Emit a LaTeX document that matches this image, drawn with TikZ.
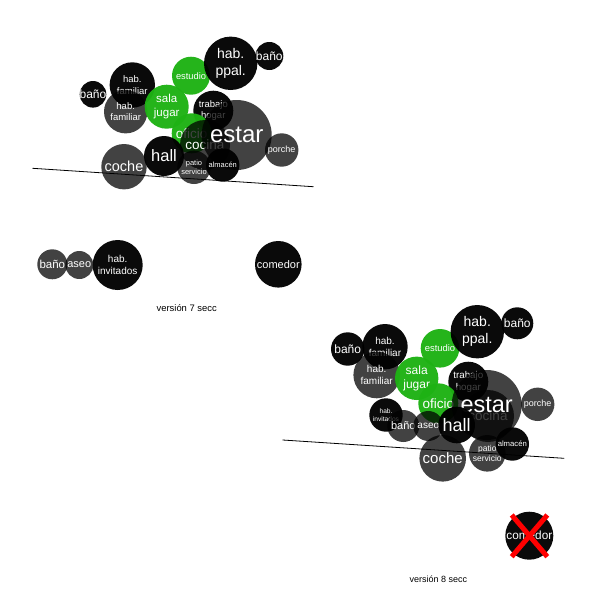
\documentclass[tikz,border=0pt]{standalone}
\usepackage{fontspec}
\setmainfont{Liberation Sans}
\newcommand\tamletra[1]{\fontsize{#1}{\fpeval{1.2*#1}}\selectfont}
\definecolor{verdesala}{RGB}{30,178,20}

\begin{document}
\begin{tikzpicture}[
    x=1pt,
    y=-1pt,
    line join=round,
    line cap=round,
    cuarto/.style={circle, inner sep=-4pt, text=white, align=center, text opacity=1},
    negro/.style={cuarto, fill=black, fill opacity=0.96},
    gris/.style={cuarto, fill=black, fill opacity=0.74},
    verde/.style={cuarto, fill=verdesala, fill opacity=0.97},
    rad/.style={minimum size=#1*2pt},
    fs/.style={font=\tamletra{#1}},
    suelo/.style={line width=0.8pt},
    cruz/.style={red, line width=5pt, line cap=butt}
]
    \useasboundingbox (0,0) rectangle (600,600);

    % versión 7
    \node[negro, rad=13.3, fs=12] (banoA) at (93,94.3) {baño};
    \node[negro, rad=22.7, fs=9.5] (habfamA) at (132.3,85) {hab.\\familiar};
    \node[gris, rad=21.7, fs=9.5] (habfamB) at (125.7,111.7) {hab.\\familiar};
    \node[verde, rad=19, fs=9.3] (estudioA) at (191,75.7) {estudio};
    \node[negro, rad=26.7, fs=14] (habppalA) at (230.7,63.3) {hab.\\ppal.};
    \node[negro, rad=14, fs=12] (banoB) at (269.3,56) {baño};
    \node[verde, rad=22, fs=11.5] (salaA) at (166.7,106.7) {sala\\jugar};
    \node[negro, rad=20, fs=9.5] (trabajoA) at (213.3,110.7) {trabajo\\hogar};
    \node[verde, rad=20, fs=13.5] (oficioA) at (191.7,133.3) {oficio};
    \node[gris, rad=25, fs=13.5] (cocinaA) at (205,145) {cocina};
    \node[gris, rad=35, fs=24] (estarA) at (236.7,135) {estar};
    \node[gris, rad=16.7, fs=9] (porcheA) at (281.7,150) {porche};
    \node[gris, rad=22.7, fs=14.5] (cocheA) at (124,166.7) {coche};
    \node[gris, rad=16.7, fs=7.5] (patioA) at (194,167.3) {patio\\servicio};
    \node[negro, rad=20, fs=16.5] (hallA) at (164,156) {hall};
    \node[negro, rad=16.7, fs=7.5] (almacenA) at (222.7,165) {almacén};
    \coordinate (sueloA1) at (32.7,168.3);
    \coordinate (sueloA2) at (313.3,186.7);
    \draw[suelo] (sueloA1) -- (sueloA2);

    % fuera de la línea
    \node[gris, rad=15, fs=11.5] (banoC) at (52.3,264.3) {baño};
    \node[gris, rad=14, fs=11] (aseoC) at (79.3,265) {aseo};
    \node[negro, rad=25, fs=10] (invitadosC) at (117.7,265) {hab.\\invitados};
    \node[negro, rad=23.3, fs=11] (comedorC) at (278.3,264.3) {comedor};
    \node[fs=9.4] (version7) at (186.7,308.3) {versión 7 secc};

    % versión 8
    \node[negro, rad=16.7, fs=12] (banoD) at (347.7,349) {baño};
    \node[negro, rad=22.7, fs=10] (habfamD) at (385,346.7) {hab.\\familiar};
    \node[gris, rad=23.3, fs=10] (habfamE) at (376.7,375) {hab.\\familiar};
    \node[verde, rad=19.3, fs=9.4] (estudioD) at (440,348.3) {estudio};
    \node[negro, rad=26.7, fs=14] (habppalD) at (477.3,331.7) {hab.\\ppal.};
    \node[negro, rad=16, fs=12] (banoE) at (517.3,323.3) {baño};
    \node[verde, rad=21.7, fs=12] (salaD) at (416.7,378.3) {sala\\jugar};
    \node[negro, rad=20, fs=9.8] (trabajoD) at (468.3,381.7) {trabajo\\hogar};
    \node[verde, rad=20, fs=13.5] (oficioD) at (438.3,403.3) {oficio};
    \node[gris, rad=26, fs=13.5] (cocinaD) at (488,416) {cocina};
    \node[gris, rad=35, fs=23.5] (estarD) at (486.7,405) {estar};
    \node[gris, rad=16.7, fs=9] (porcheD) at (537.7,404.3) {porche};
    \node[negro, rad=16.7, fs=6.6] (invitadosD) at (386,415) {hab.\\invitados};
    \node[gris, rad=16, fs=11] (banoF) at (403.3,426) {baño};
    \node[gris, rad=15, fs=10] (aseoD) at (428.3,426) {aseo};
    \node[negro, rad=18.3, fs=18] (hallD) at (456.7,425) {hall};
    \node[gris, rad=23.3, fs=15] (cocheD) at (442.7,458.3) {coche};
    \node[gris, rad=18.3, fs=8.5] (patioD) at (487.3,453.3) {patio\\servicio};
    \node[negro, rad=16.7, fs=7.7] (almacenD) at (512.3,444) {almacén};
    \coordinate (sueloD1) at (282.7,440);
    \coordinate (sueloD2) at (564,458.3);
    \draw[suelo] (sueloD1) -- (sueloD2);

    % comedor eliminado
    \node[negro, rad=24, fs=11.8] (comedorD) at (529.3,535.7) {comedor};
    \coordinate (cruz1) at (511.7,515);
    \coordinate (cruz2) at (547.3,556.7);
    \coordinate (cruz3) at (547.3,515);
    \coordinate (cruz4) at (511.7,556.7);
    \draw[cruz] (cruz1) -- (cruz2);
    \draw[cruz] (cruz3) -- (cruz4);
    \node[fs=9] (version8) at (438.3,579) {versión 8 secc};

\end{tikzpicture}
\end{document}
